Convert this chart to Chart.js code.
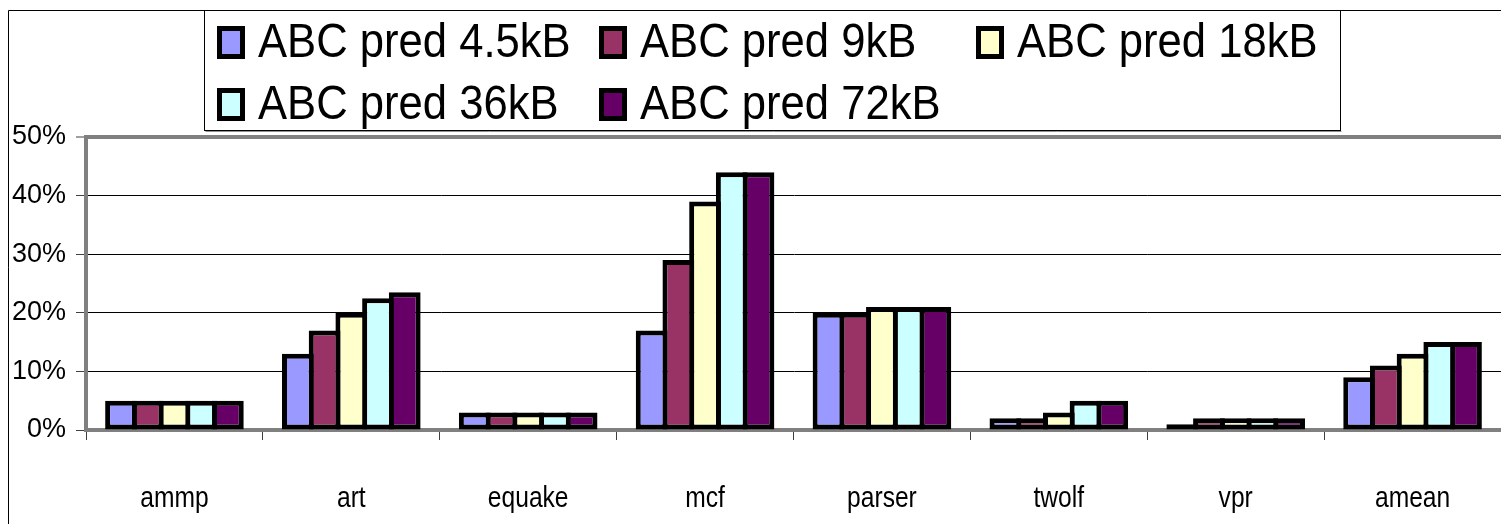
<!DOCTYPE html>
<html>
<head>
<meta charset="utf-8">
<script src="https://cdn.jsdelivr.net/npm/chart.js@4/dist/chart.umd.min.js"></script>
<style>
  html, body { margin: 0; padding: 0; background: #ffffff; }
  #wrap { width: 1501px; height: 524px; }
</style>
</head>
<body>
<div id="wrap"><canvas id="chart" width="1501" height="524"></canvas></div>
<script>
// Benchmarks and predictor sizes
const categories = ['ammp', 'art', 'equake', 'mcf', 'parser', 'twolf', 'vpr', 'amean'];
const seriesNames = ['ABC pred 4.5kB', 'ABC pred 9kB', 'ABC pred 18kB', 'ABC pred 36kB', 'ABC pred 72kB'];

// Percent values per predictor size
const pred4_5kB = [5, 13, 3, 17, 20, 2, 1, 9];
const pred9kB   = [5, 17, 3, 29, 20, 2, 2, 11];
const pred18kB  = [5, 20, 3, 39, 21, 3, 2, 13];
const pred36kB  = [5, 22.5, 3, 44, 21, 5, 2, 15];
const pred72kB  = [5, 23.5, 3, 44, 21, 5, 2, 15];

const yTicks = [0, 10, 20, 30, 40, 50];

const fills = ['#9999FF', '#993366', '#FFFFCC', '#CCFFFF', '#660066'];
const seriesValues = [pred4_5kB, pred9kB, pred18kB, pred36kB, pred72kB];

const SANS = "'Liberation Sans', Arial, sans-serif";

// Draws text squeezed horizontally (condensed look)
function condensedText(ctx, text, x, y, size, squeeze, align) {
  ctx.save();
  ctx.translate(x, y);
  ctx.scale(squeeze, 1);
  ctx.font = size + 'px ' + SANS;
  ctx.textAlign = align;
  ctx.textBaseline = 'alphabetic';
  ctx.fillStyle = '#000000';
  ctx.fillText(text, 0, 0);
  ctx.restore();
}

// Outer frame of the chart object
const framePlugin = {
  id: 'frame',
  beforeDraw(chart) {
    const ctx = chart.ctx;
    ctx.save();
    ctx.fillStyle = '#ffffff';
    ctx.fillRect(0, 0, chart.width, chart.height);
    ctx.strokeStyle = '#000000';
    ctx.lineWidth = 1;
    ctx.beginPath();
    ctx.moveTo(8.5, chart.height);
    ctx.lineTo(8.5, 10.5);
    ctx.lineTo(chart.width, 10.5);
    ctx.stroke();
    ctx.restore();
  }
};

// Category names under the x axis, placed by the category scale
const categoryLabels = {
  id: 'categoryLabels',
  afterDraw(chart) {
    const xs = chart.scales.x;
    const ctx = chart.ctx;
    chart.data.labels.forEach((name, i) => {
      condensedText(ctx, name, xs.getPixelForValue(i), 507, 30, 0.82, 'center');
    });
  }
};

// Legend laid out in fixed columns, two rows
const columnLegend = {
  id: 'columnLegend',
  afterDraw(chart) {
    const ctx = chart.ctx;
    const box = { x: 204.5, y: 10.5, w: 1136, h: 120 };
    const colX = [217, 599, 976];
    const rowY = [26, 88];
    ctx.save();
    ctx.fillStyle = '#ffffff';
    ctx.fillRect(box.x, box.y, box.w, box.h);
    ctx.strokeStyle = '#909090';
    ctx.lineWidth = 1;
    ctx.beginPath();
    ctx.moveTo(box.x + 1, box.y + box.h + 1);
    ctx.lineTo(box.x + box.w + 1, box.y + box.h + 1);
    ctx.stroke();
    ctx.strokeStyle = '#000000';
    ctx.strokeRect(box.x, box.y, box.w, box.h);

    chart.data.datasets.forEach((ds, i) => {
      const x = colX[i % 3];
      const y = rowY[Math.floor(i / 3)];
      ctx.fillStyle = '#000000';
      ctx.fillRect(x, y, 28, 33);
      ctx.fillStyle = ds.backgroundColor;
      ctx.fillRect(x + 5, y + 5, 18, 23);
      condensedText(ctx, ds.label, x + 41, y + 31, 49, 0.89, 'left');
    });
    ctx.restore();
  }
};

const datasets = seriesNames.map((name, i) => ({
  label: name,
  data: seriesValues[i],
  backgroundColor: fills[i],
  borderColor: '#000000',
  borderWidth: 5,
  borderSkipped: false,
  categoryPercentage: 0.755,
  barPercentage: 1.19
}));

new Chart(document.getElementById('chart'), {
  type: 'bar',
  data: { labels: categories, datasets },
  options: {
    responsive: false,
    animation: false,
    devicePixelRatio: 1,
    layout: { padding: { top: 137, left: 0, right: 0, bottom: 0 } },
    plugins: {
      legend: { display: false },
      tooltip: { enabled: false }
    },
    scales: {
      x: {
        grid: {
          offset: true,
          drawOnChartArea: false,
          drawTicks: true,
          tickLength: 10,
          color: '#404040',
          lineWidth: 1
        },
        border: { display: true, color: '#808080', width: 4 },
        ticks: { display: false },
        afterFit(scale) { scale.height = 94; }
      },
      y: {
        min: 0,
        max: 50,
        afterBuildTicks(scale) { scale.ticks = yTicks.map(v => ({ value: v })); },
        grid: {
          drawTicks: true,
          tickLength: 10,
          tickColor: '#404040',
          tickWidth: 1,
          color: ctx => (ctx.tick && ctx.tick.value === 50) ? '#808080' : '#000000',
          lineWidth: ctx => (ctx.tick && ctx.tick.value === 50) ? 4 : 1
        },
        border: { display: true, color: '#808080', width: 4 },
        ticks: {
          color: '#000000',
          padding: 10,
          font: { family: SANS, size: 27 },
          callback: v => v + '%'
        },
        afterFit(scale) { scale.width = 86; }
      }
    }
  },
  plugins: [framePlugin, categoryLabels, columnLegend]
});
</script>
</body>
</html>
